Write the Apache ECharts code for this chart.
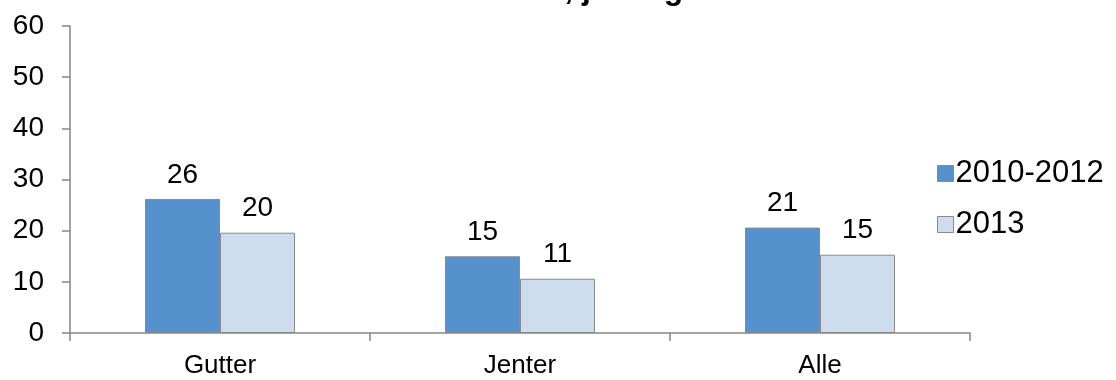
<!DOCTYPE html>
<html>
<head>
<meta charset="utf-8">
<script src="https://cdn.jsdelivr.net/npm/echarts@6/dist/echarts.min.js"></script>
<style>html,body{margin:0;padding:0;background:#fff}#c{width:1116px;height:380px}</style>
</head>
<body>
<div id="c"></div>
<script>
const titleText = 'Andel mobbet, jevnlig i uka';
const categories = ['Gutter', 'Jenter', 'Alle'];
const seriesNames = ['2010-2012', '2013'];
const values2010_2012 = [26.2, 15.0, 20.6];
const values2013 = [19.6, 10.6, 15.3];
const yTicks = { min: 0, max: 60, interval: 10 };

const colors = ['#5592CD', '#CEDDEE'];
const font = '"Liberation Sans", Arial, sans-serif';
const chart = echarts.init(document.getElementById('c'));
function mk(name, data, color) {
  return {
    name, type: 'bar', data, barWidth: 75, barGap: '0%',
    itemStyle: { color, borderColor: '#8a8a8a', borderWidth: 1 },
    label: { show: true, position: 'top', distance: 10, color: '#000', fontSize: 28, fontFamily: font,
      formatter: p => Math.round(p.value) }
  };
}
chart.setOption({
  animation: false,
  backgroundColor: '#fff',
  title: { text: titleText, left: 'center', top: -31,
    textStyle: { fontSize: 32, fontWeight: 'bold', color: '#000', fontFamily: font } },
  legend: {
    orient: 'vertical', left: 932, top: 153, itemWidth: 16, itemHeight: 16, itemGap: 20,
    icon: 'rect',
    itemStyle: { borderColor: '#8a8a8a', borderWidth: 1 },
    textStyle: { fontSize: 31, color: '#000', fontFamily: font, padding: [0, 0, 0, -3] },
    data: seriesNames
  },
  grid: { left: 70, right: 146, top: 26, bottom: 47 },
  xAxis: {
    type: 'category', data: categories,
    axisLine: { lineStyle: { color: '#868686', width: 1.5 } },
    axisTick: { show: true, length: 8, lineStyle: { color: '#868686', width: 1.5 } },
    axisLabel: { fontSize: 26, color: '#000', fontFamily: font, margin: 20 }
  },
  yAxis: {
    type: 'value', min: yTicks.min, max: yTicks.max, interval: yTicks.interval,
    splitLine: { show: false },
    axisLine: { show: true, lineStyle: { color: '#868686', width: 1.5 } },
    axisTick: { show: true, length: 8, lineStyle: { color: '#868686', width: 1.5 } },
    axisLabel: { fontSize: 28, color: '#000', fontFamily: font, margin: 26 }
  },
  series: [mk(seriesNames[0], values2010_2012, colors[0]), mk(seriesNames[1], values2013, colors[1])]
});
</script>
</body>
</html>
